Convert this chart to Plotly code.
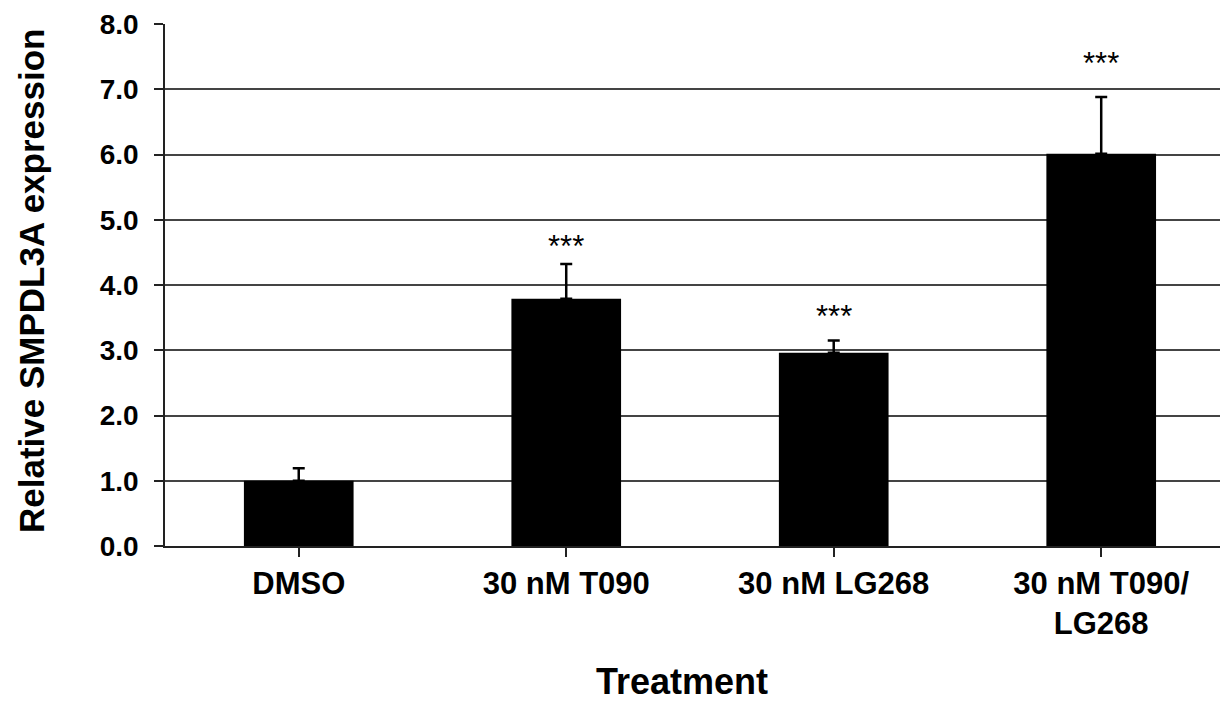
import plotly.graph_objects as go

categories = ["DMSO", "30 nM T090", "30 nM LG268", "30 nM T090/<br>LG268"]
values = [1.00, 3.79, 2.96, 6.01]
errors = [0.19, 0.53, 0.19, 0.87]
sig_labels = ["", "***", "***", "***"]
sig_label_y = [None, 4.59, 3.51, 7.40]
y_ticks = [0, 1, 2, 3, 4, 5, 6, 7, 8]
y_tick_text = ["0.0", "1.0", "2.0", "3.0", "4.0", "5.0", "6.0", "7.0", "8.0"]

FONT = "Liberation Sans, Arial, sans-serif"
OFF = 8  # page body margin in the browser
W, H = 1228 - OFF, 704 - OFF
ML, MR, MT, MB = 165 - OFF, 0, 24 - OFF, 704 - 546
PW, PH = W - ML - MR, H - MT - MB


def px_to_paper(px, py):
    # px, py are screenshot pixel positions
    return (px - OFF - ML) / PW, (H - MB - (py - OFF)) / PH


fig = go.Figure()
fig.add_trace(go.Bar(
    x=list(range(len(categories))),
    y=values,
    width=0.41,
    marker=dict(color="black", line=dict(width=0)),
    error_y=dict(type="data", array=errors, arrayminus=[0] * len(errors),
                 symmetric=False, color="black", thickness=2.5, width=6),
    showlegend=False,
))

for i, (lab, yy) in enumerate(zip(sig_labels, sig_label_y)):
    if lab:
        fig.add_annotation(x=i, y=yy, text=lab, showarrow=False, xref="x", yref="y",
                           yanchor="middle", font=dict(family=FONT, size=31, color="black"))

tx, ty = px_to_paper(682, 681)
fig.add_annotation(x=tx, y=ty, xref="paper", yref="paper", text="Treatment", showarrow=False,
                   xanchor="center", yanchor="middle", borderpad=0,
                   font=dict(family=FONT, size=36, color="black", weight="bold"))

yx, yy_ = px_to_paper(31, 281)
fig.add_annotation(x=yx, y=yy_, xref="paper", yref="paper", text="Relative SMPDL3A expression",
                   showarrow=False, textangle=-90, xanchor="center", yanchor="middle",
                   font=dict(family=FONT, size=35, color="black", weight="bold"))

fig.update_layout(
    width=W, height=H,
    margin=dict(l=ML, r=MR, t=MT, b=MB),
    paper_bgcolor="white", plot_bgcolor="white",
    font=dict(family=FONT, color="black"),
)

fig.update_xaxes(
    range=[-0.5, 3.474], automargin=False,
    tickmode="array", tickvals=list(range(len(categories))), ticktext=categories,
    tickson="boundaries", ticks="outside", ticklen=9, tickwidth=1.5, tickcolor="#222",
    showline=True, linecolor="#222", linewidth=1.5,
    showgrid=False, zeroline=False,
    tickfont=dict(family=FONT, size=31, color="black", weight="bold"),
    ticklabelstandoff=0,
)
fig.update_yaxes(
    range=[0, 8], automargin=False,
    tickmode="array", tickvals=y_ticks, ticktext=y_tick_text,
    ticks="outside", ticklen=9, tickwidth=1.5, tickcolor="#222",
    showline=True, linecolor="#222", linewidth=1.5,
    showgrid=True, gridcolor="#444", gridwidth=1.5,
    zeroline=False,
    tickfont=dict(family=FONT, size=28, color="black", weight="bold"),
    ticklabelstandoff=10,
)

fig.write_html("out.html")
